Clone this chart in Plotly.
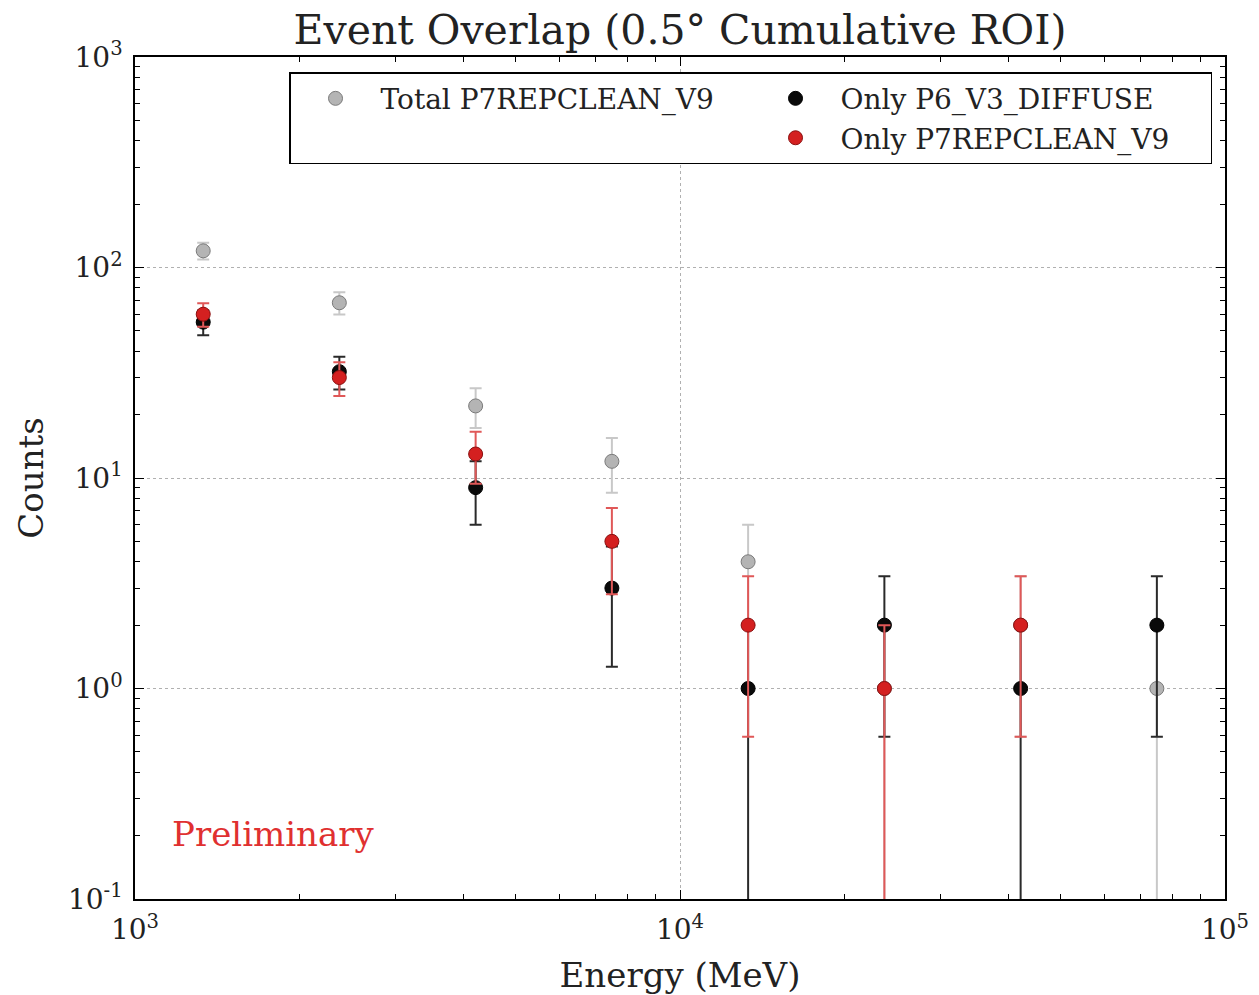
import plotly.graph_objects as go

energy_mev = [1334, 2371, 4217, 7499, 13335, 23714, 42170, 74989]

total_p7 = [120, 68, 22, 12, 4, 1, 2, 1]
total_p7_err = [11.0, 8.2, 4.7, 3.5, 2.0, 1.0, 1.41, 1.0]

only_p6 = [55, 32, 9, 3, 1, 2, 1, 2]
only_p6_err = [7.4, 5.7, 3.0, 1.73, 1.0, 1.41, 1.0, 1.41]

only_p7 = [60, 30, 13, 5, 2, 1, 2, None]
only_p7_err = [7.7, 5.5, 3.6, 2.2, 1.41, 1.0, 1.41, 0]

x_tickvals = [1e3, 1e4, 1e5]
x_ticktext = ["10<sup>3</sup>", "10<sup>4</sup>", "10<sup>5</sup>"]
y_tickvals = [0.1, 1, 10, 100, 1000]
y_ticktext = ["10<sup>-1</sup>", "10<sup>0</sup>", "10<sup>1</sup>", "10<sup>2</sup>", "10<sup>3</sup>"]

FONT = "DejaVu Serif"

fig = go.Figure()

def add_series(y, err, name, fill, edge, barcolor, rank):
    fig.add_trace(go.Scatter(
        x=energy_mev, y=y, mode="markers", name=name, legendrank=rank,
        marker=dict(size=14, color=fill, line=dict(color=edge, width=1)),
        error_y=dict(type="data", array=err, arrayminus=err, symmetric=False,
                     color=barcolor, thickness=2, width=6),
    ))

add_series(total_p7, total_p7_err, "Total P7REPCLEAN_V9", "#b4b4b4", "#7a7a7a", "#c8c8c8", 1)
add_series(only_p6, only_p6_err, "Only P6_V3_DIFFUSE", "#0a0a0a", "#000000", "#2a2a2a", 2)
fig.add_trace(go.Scatter(x=[None], y=[None], mode="markers", name=" ", legendrank=3,
                         marker=dict(size=1, color="rgba(0,0,0,0)"), hoverinfo="skip"))
add_series(only_p7, only_p7_err, "Only P7REPCLEAN_V9", "#d42020", "#8a1010", "#e05858", 4)

axis_common = dict(
    type="log", showline=True, linecolor="black", linewidth=1.5, mirror="allticks",
    ticks="inside", ticklen=9, tickwidth=1, tickcolor="black",
    showgrid=True, gridcolor="#b0b0b0", griddash="dot", gridwidth=1,
    zeroline=False, tickfont=dict(family=FONT, size=28, color="#222"),
    ticklabelstandoff=5, automargin=False,
    minor=dict(ticks="inside", ticklen=5, tickcolor="black", dtick="D1", showgrid=False),
)

fig.update_xaxes(**axis_common, range=[3, 5], tickmode="array",
                 tickvals=x_tickvals, ticktext=x_ticktext,
                 title=dict(text="Energy (MeV)", font=dict(family=FONT, size=34, color="#222"), standoff=18))
fig.update_yaxes(**axis_common, range=[-1, 3], tickmode="array",
                 tickvals=y_tickvals, ticktext=y_ticktext,
                 title=dict(text="Counts", font=dict(family=FONT, size=34, color="#222"), standoff=14))

fig.add_annotation(x=0.032, y=0.077, xref="paper", yref="paper", xanchor="left", yanchor="middle",
                   text="Preliminary", showarrow=False,
                   font=dict(family=FONT, size=34, color="#e03030"))

fig.update_layout(
    width=1259, height=995,
    margin=dict(l=135, r=34, t=57, b=96, autoexpand=False),
    paper_bgcolor="white", plot_bgcolor="white",
    title=dict(text="Event Overlap (0.5° Cumulative ROI)", x=0.5, xref="paper",
               y=1 - 30 / 995, yanchor="middle",
               font=dict(family=FONT, size=41, color="#222")),
    showlegend=True,
    legend=dict(orientation="h", x=0.1413, y=0.982, xanchor="left", yanchor="top",
                entrywidth=365, entrywidthmode="pixels", itemwidth=80,
                bordercolor="black", borderwidth=1.5, bgcolor="white",
                font=dict(family=FONT, size=28, color="#222"), traceorder="normal"),
)

fig.write_html("out.html")
